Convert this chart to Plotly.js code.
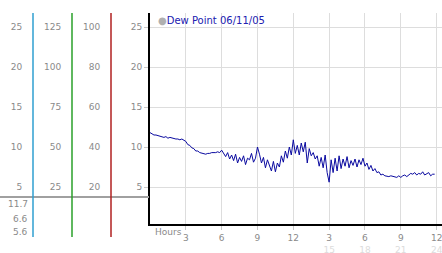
<!DOCTYPE html>
<html><head><meta charset="utf-8">
<script src="https://cdn.plot.ly/plotly-3.0.1.min.js"></script>
<style>html,body{margin:0;padding:0;background:#fff}#c{width:442px;height:253px}</style>
</head><body><div id="c"></div>
<script>
// Dew point readings, every 10 minutes from hour 0
const STEP_HOURS = 1/6;
const dewPoint = [
 11.8,11.6,11.5,11.5,11.4,11.3,
 11.3,11.2,11.3,11.1,11.2,11.1,
 11.0,11.0,11.0,10.9,11.0,10.9,
 10.7,10.3,10.2,9.9,9.8,9.5,
 9.5,9.3,9.2,9.1,9.1,9.2,
 9.2,9.3,9.3,9.3,9.4,9.3,
 9.6,9.2,8.8,9.3,8.5,9.0,
 8.3,9.1,8.0,8.7,8.2,8.9,
 7.8,8.6,8.4,9.2,8.1,8.6,
 10.0,9.1,8.0,8.7,7.4,8.4,
 7.6,7.0,8.2,6.9,8.0,7.5,
 8.9,8.1,9.5,8.6,10.0,9.0,
 10.9,9.2,10.2,9.0,10.5,9.4,
 10.6,8.0,9.8,8.9,9.3,8.5,
 8.9,7.6,8.7,7.4,9.0,6.8,
 5.6,8.4,6.8,8.6,7.0,8.9,
 7.3,8.5,7.6,8.8,7.4,8.3,
 7.7,8.5,7.5,8.4,7.8,8.6,
 7.6,8.0,7.2,7.7,7.0,7.3,
 6.8,6.9,6.5,6.6,6.4,6.3,
 6.3,6.4,6.3,6.3,6.2,6.4,
 6.2,6.4,6.5,6.3,6.5,6.7,
 6.6,6.8,6.5,6.7,6.6,6.9,
 6.5,6.7,6.8,6.4,6.6,6.6
];
const hours = dewPoint.map((_, i) => i * STEP_HOURS);

const seriesName = 'Dew Point 06/11/05';
const xTickVals = [3,6,9,12,15,18,21,24];
const xTickTop = ['3','6','9','12','3','6','9','12'];
const xTickBottom = ['','','','','15','18','21','24'];
const yTickVals = [5,10,15,20,25];
const col2Ticks = [25,50,75,100,125];
const col3Ticks = [20,40,60,80,100];
const statLabels = ['11.7','6.6','5.6'];

const W = 442, H = 253, L = 150, T = 13, B = 29;
const plotH = H - T - B;
const px2x = p => p / W;
const px2y = p => (H - B - p) / plotH;
const yr = [0.375, 26.75];

const font = {family: 'DejaVu Sans, Verdana, sans-serif', size: 9, color: '#8a8a8a'};
const ticktext = xTickTop.map((t, i) => xTickBottom[i] ? t + "<br><span style='color:#dcdcdc'>" + xTickBottom[i] + "</span>" : t + "<br> ");

const traces = [
  {x: hours, y: dewPoint, type: 'scatter', mode: 'lines', line: {color: '#0a0aa0', width: 1}, showlegend: false, hoverinfo: 'skip'},
  {x: [null], y: [null], yaxis: 'y2', showlegend: false, hoverinfo: 'skip'},
  {x: [null], y: [null], yaxis: 'y3', showlegend: false, hoverinfo: 'skip'},
  {x: [null], y: [null], yaxis: 'y4', showlegend: false, hoverinfo: 'skip'}
];

const sideAxis = (pos, mult, vals) => ({
  overlaying: 'y', anchor: 'free', position: px2x(pos), side: 'left',
  range: [yr[0]*mult, yr[1]*mult], tickvals: vals, ticktext: vals.map(String),
  showgrid: false, zeroline: false, showline: false,
  ticks: 'outside', ticklen: 9, tickcolor: 'rgba(0,0,0,0)', tickfont: font, fixedrange: true
});

const layout = {
  width: W, height: H,
  margin: {l: 0, r: 0, t: T, b: B, pad: 0},
  paper_bgcolor: '#fff', plot_bgcolor: '#fff',
  font: font,
  xaxis: {domain: [L/W, 1], range: [0, 24.45], tickvals: xTickVals, ticktext: ticktext,
    showgrid: true, gridcolor: '#dddddd', gridwidth: 1, zeroline: false,
    showline: true, linecolor: '#000', linewidth: 2, ticklabeloverflow: 'allow',
    ticks: 'outside', ticklen: 4, tickcolor: '#c8c8c8', tickfont: font},
  yaxis: {range: yr, tickvals: yTickVals, ticktext: yTickVals.map(String),
    showgrid: true, gridcolor: '#dddddd', gridwidth: 1, zeroline: false,
    showline: true, linecolor: '#000', linewidth: 2,
    ticks: 'outside', ticklen: 4, tickcolor: '#c8c8c8', tickfont: font},
  yaxis2: sideAxis(72, 5, col2Ticks),
  yaxis3: sideAxis(111, 4, col3Ticks),
  yaxis4: sideAxis(33, 1, yTickVals),
  shapes: [
    {type: 'line', xref: 'paper', yref: 'paper', x0: 0, x1: px2x(149), y0: px2y(197), y1: px2y(197), line: {color: '#a0a0a0', width: 2}},
    {type: 'line', xref: 'paper', yref: 'paper', x0: px2x(33), x1: px2x(33), y0: px2y(13), y1: px2y(237), line: {color: '#2f9fd0', width: 1.5}},
    {type: 'line', xref: 'paper', yref: 'paper', x0: px2x(72), x1: px2x(72), y0: px2y(13), y1: px2y(237), line: {color: '#2aa02a', width: 1.5}},
    {type: 'line', xref: 'paper', yref: 'paper', x0: px2x(111), x1: px2x(111), y0: px2y(13), y1: px2y(237), line: {color: '#b02020', width: 1.5}}
  ],
  annotations: [
    {xref: 'paper', yref: 'paper', x: px2x(156), y: px2y(20), xanchor: 'left', yanchor: 'middle', showarrow: false,
     text: "<span style='color:#b0b0b0'>●</span>" + seriesName, font: {family: font.family, size: 10, color: '#2020b0'}},
    {xref: 'paper', yref: 'paper', x: px2x(153), y: px2y(232), xanchor: 'left', yanchor: 'middle', showarrow: false,
     text: 'Hours', font: font},
    ...statLabels.map((s, i) => ({xref: 'paper', yref: 'paper', x: px2x(30), y: px2y([204, 219, 232][i]),
     xanchor: 'right', yanchor: 'middle', showarrow: false, text: s, font: font}))
  ]
};

Plotly.newPlot('c', traces, layout, {displayModeBar: false, staticPlot: true});
</script></body></html>
